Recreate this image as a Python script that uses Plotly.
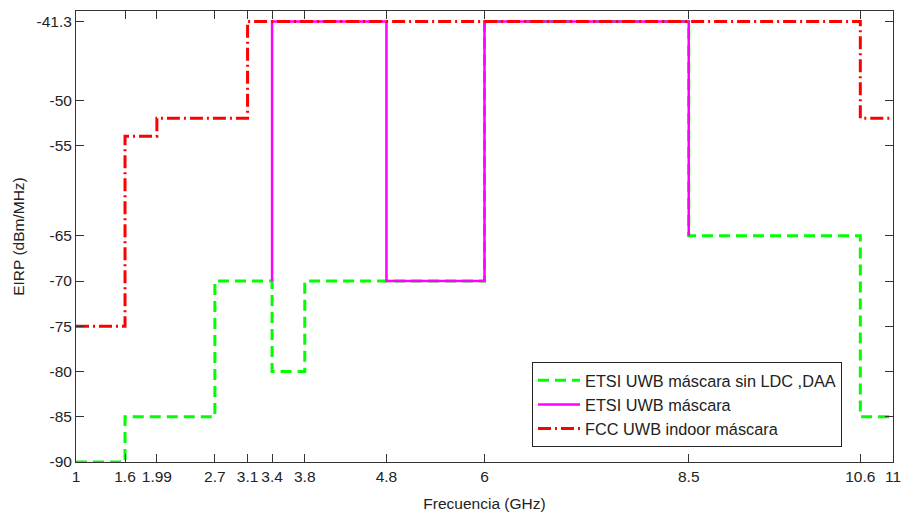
import plotly.graph_objects as go

# Frequency edges (GHz) and EIRP levels (dBm/MHz), step after each edge
etsi_nold_f = [1, 1.6, 2.7, 3.4, 3.8, 4.8, 6, 8.5, 10.6, 11]
etsi_nold_p = [-90, -85, -70, -80, -70, -70, -41.3, -65, -85, -85]

etsi_f = [3.4, 3.4, 4.8, 6, 8.5, 8.5]
etsi_p = [-70, -41.3, -70, -41.3, -65, -65]

fcc_f = [1, 1.6, 1.99, 3.1, 10.6, 11]
fcc_p = [-75, -54, -52, -41.3, -52, -52]

x_ticks = [1, 1.6, 1.99, 2.7, 3.1, 3.4, 3.8, 4.8, 6, 8.5, 10.6, 11]
x_tick_text = ["1", "1.6", "1.99", "2.7", "3.1", "3.4", "3.8", "4.8", "6", "8.5", "10.6", "11"]
y_ticks = [-90, -85, -80, -75, -70, -65, -55, -50, -41.3]
y_tick_text = ["-90", "-85", "-80", "-75", "-70", "-65", "-55", "-50", "-41.3"]

names = ["ETSI UWB máscara sin LDC ,DAA", "ETSI UWB máscara", "FCC UWB indoor máscara"]

FONT = "Liberation Sans, Arial, sans-serif"
FS = 15.5

fig = go.Figure()
fig.add_trace(go.Scatter(x=etsi_nold_f, y=etsi_nold_p, mode="lines", line_shape="hv",
                         name=names[0],
                         line=dict(color="#00ff00", width=3, dash="11px,6px")))
fig.add_trace(go.Scatter(x=etsi_f, y=etsi_p, mode="lines", line_shape="hv",
                         name=names[1],
                         line=dict(color="#ff00ff", width=2.5)))
fig.add_trace(go.Scatter(x=fcc_f, y=fcc_p, mode="lines", line_shape="hv",
                         name=names[2],
                         line=dict(color="#ff0000", width=3, dash="13px,4px,2px,4px")))

axis_common = dict(
    showgrid=False, zeroline=False, showline=True, linecolor="#333333", linewidth=1,
    mirror="ticks", ticks="inside", ticklen=8, tickcolor="#333333", automargin=False,
    tickfont=dict(family=FONT, size=FS, color="#222222"),
)

fig.update_xaxes(range=[1, 11], tickmode="array", tickvals=x_ticks, ticktext=x_tick_text,
                 title=dict(text="Frecuencia (GHz)", standoff=15,
                            font=dict(family=FONT, size=FS, color="#222222")),
                 **axis_common)
fig.update_yaxes(range=[-90, -40.15], tickmode="array", tickvals=y_ticks, ticktext=y_tick_text,
                 title=dict(text="EIRP (dBm/MHz)", standoff=8,
                            font=dict(family=FONT, size=FS, color="#222222")),
                 **axis_common)

fig.update_layout(
    width=902, height=512,
    margin=dict(l=76, r=9, t=11, b=50),
    paper_bgcolor="white", plot_bgcolor="white",
    showlegend=True,
    legend=dict(x=0.9376, y=0.033, xanchor="right", yanchor="bottom",
                bgcolor="white", bordercolor="#222222", borderwidth=1,
                font=dict(family=FONT, size=16.3, color="#222222"),
                itemwidth=42, tracegroupgap=0),
)

fig.write_html("out.html")
